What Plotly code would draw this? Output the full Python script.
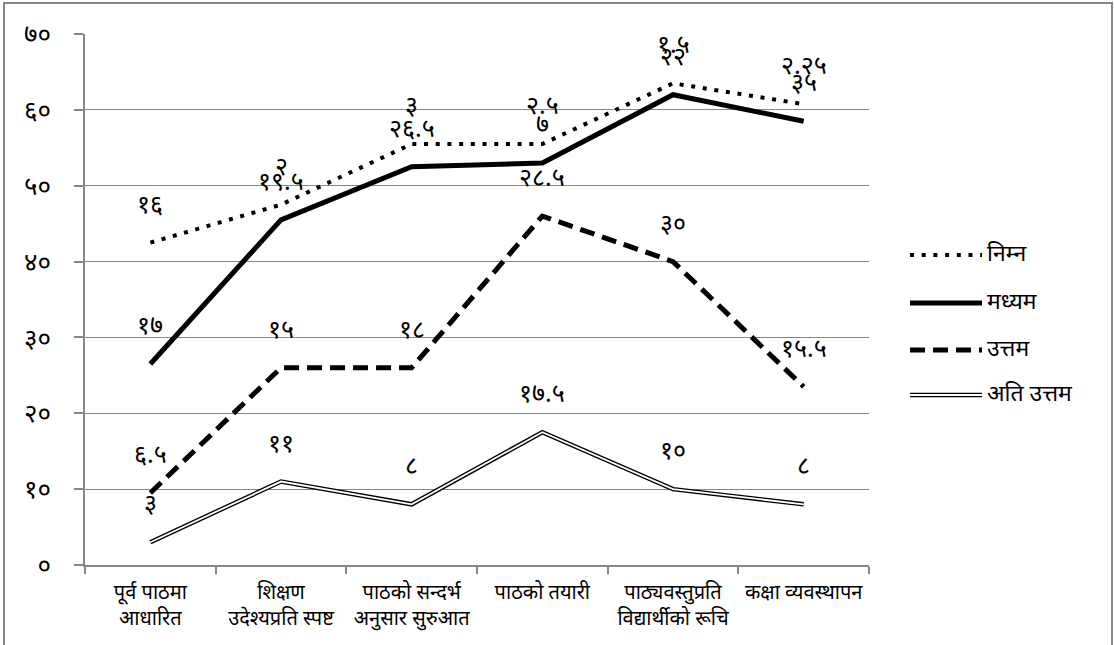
import plotly.graph_objects as go
import numpy as np

categories = ["पूर्व पाठमा<br>आधारित", "शिक्षण<br>उदेश्यप्रति स्पष्ट", "पाठको सन्दर्भ<br>अनुसार सुरुआत",
              "पाठको तयारी", "पाठ्यवस्तुप्रति<br>विद्यार्थीको रूचि", "कक्षा व्यवस्थापन"]
series_names = ["निम्न", "मध्यम", "उत्तम", "अति उत्तम"]
ati_uttam = [3, 11, 8, 17.5, 10, 8]
uttam = [6.5, 15, 18, 28.5, 30, 15.5]
madhyam = [17, 19.5, 26.5, 7, 22, 35]
nimna = [16, 2, 3, 2.5, 1.5, 2.25]
y_tick_vals = [0, 10, 20, 30, 40, 50, 60, 70]

DEV = str.maketrans("0123456789", "०१२३४५६७८९")


def dev(v):
    s = ("%g" % v)
    return s.translate(DEV)


FONT = "Noto Sans Devanagari, Noto Serif Devanagari, Lohit Devanagari, sans-serif"
GREY = "#868686"

c1 = np.array(ati_uttam, dtype=float)
c2 = c1 + np.array(uttam)
c3 = c2 + np.array(madhyam)
c4 = c3 + np.array(nimna)

fig = go.Figure()
fig.add_trace(go.Scatter(x=categories, y=c1, mode="lines", line=dict(color="black", width=4.5),
                         showlegend=False, hoverinfo="skip"))
fig.add_trace(go.Scatter(x=categories, y=c1, mode="lines", line=dict(color="white", width=1.8),
                         showlegend=False, hoverinfo="skip"))
fig.add_trace(go.Scatter(x=categories, y=c2, mode="lines",
                         line=dict(color="black", width=5, dash="15px,8px"), showlegend=False))
fig.add_trace(go.Scatter(x=categories, y=c3, mode="lines",
                         line=dict(color="black", width=5), showlegend=False))
fig.add_trace(go.Scatter(x=categories, y=c4, mode="lines",
                         line=dict(color="black", width=4, dash="4px,7.7px"), showlegend=False))

annotations = []
for vals, cum in [(ati_uttam, c1), (uttam, c2), (madhyam, c3), (nimna, c4)]:
    for cat, v, y in zip(categories, vals, cum):
        annotations.append(dict(x=cat, y=y, text=dev(v), showarrow=False, yshift=36,
                                xanchor="center", yanchor="middle",
                                font=dict(family=FONT, size=25, color="black")))

L, R, T, B = 85, 869, 34, 565


def px_x(p):
    return (p - L) / (R - L)


def px_y(p):
    return (B - p) / (B - T)


shapes = []
leg_y = [255, 303, 350, 395]
styles = [
    [dict(color="black", width=4, dash="4px,7.7px")],
    [dict(color="black", width=5)],
    [dict(color="black", width=5, dash="15px,8px")],
    [dict(color="black", width=4.5), dict(color="white", width=1.8)],
]
for name, ly, st in zip(series_names, leg_y, styles):
    for s in st:
        shapes.append(dict(type="line", xref="paper", yref="paper", x0=px_x(910), x1=px_x(982),
                           y0=px_y(ly), y1=px_y(ly), line=s))
    annotations.append(dict(xref="paper", yref="paper", x=px_x(985), y=px_y(ly), text=name,
                            showarrow=False, xanchor="left", yanchor="middle",
                            font=dict(family=FONT, size=23, color="black")))

shapes.append(dict(type="rect", xref="paper", yref="paper", x0=px_x(4), x1=px_x(1112),
                   y0=px_y(700), y1=px_y(3), line=dict(color=GREY, width=2), layer="below"))

fig.update_layout(
    width=1114, height=645,
    margin=dict(l=L, r=1114 - R, t=T, b=645 - B, autoexpand=False),
    paper_bgcolor="white", plot_bgcolor="white",
    showlegend=False,
    annotations=annotations,
    shapes=shapes,
    font=dict(family=FONT, color="black"),
)
fig.update_xaxes(type="category", range=[-0.5, 5.5], showline=True, linecolor=GREY, linewidth=1.5,
                 ticks="outside", ticklen=7, tickcolor=GREY, tickwidth=1.5, tickson="boundaries",
                 showgrid=False, tickangle=0, automargin=False, ticklabelstandoff=8,
                 tickfont=dict(family=FONT, size=20, color="black"))
fig.update_yaxes(range=[0, 70], tickvals=y_tick_vals, ticktext=[dev(v) for v in y_tick_vals],
                 showline=True, linecolor=GREY, linewidth=1.5, ticks="outside", ticklen=9,
                 tickcolor=GREY, tickwidth=1.5, showgrid=True, gridcolor=GREY, gridwidth=1.3,
                 zeroline=False, ticklabelstandoff=18, automargin=False,
                 tickfont=dict(family=FONT, size=26, color="black"))

fig.write_html("out.html", config={"displayModeBar": False},
               post_script="document.body.style.margin='0';document.body.style.overflow='hidden';")
